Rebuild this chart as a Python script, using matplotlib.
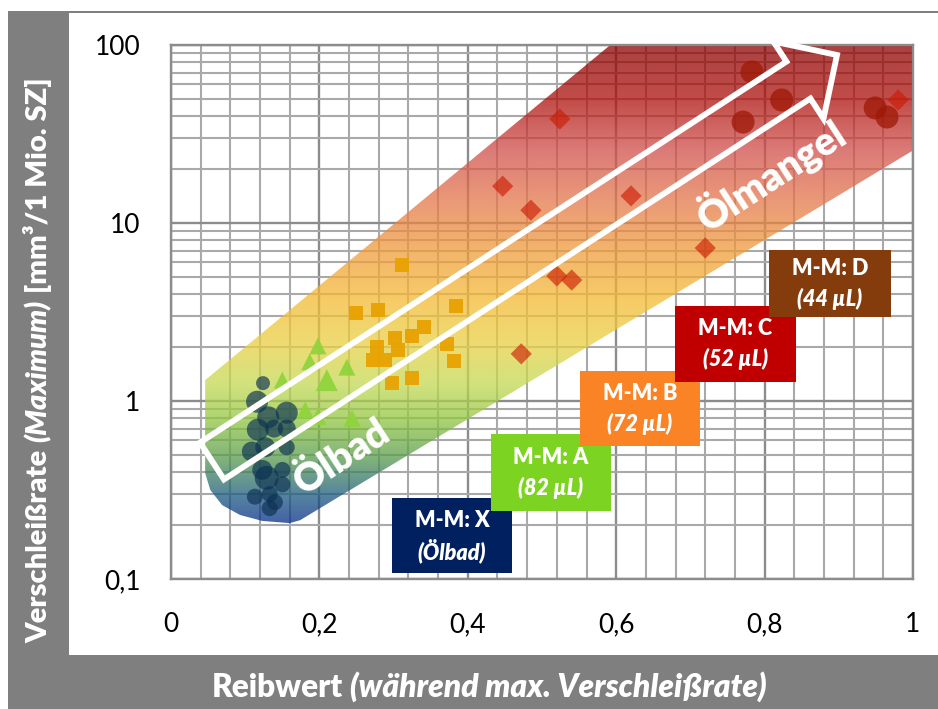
import numpy as np
import matplotlib
matplotlib.use("Agg")
import matplotlib.pyplot as plt
from matplotlib.patches import Polygon, Rectangle
from matplotlib.colors import to_rgb
from matplotlib.ticker import FixedLocator, FuncFormatter, NullFormatter

plt.rcParams['font.family'] = ['Lato', 'DejaVu Sans']

# ---------------- data ----------------
# M-M: X (Ölbad)
x_oelbad = [0.124, 0.116, 0.131, 0.156, 0.117, 0.139, 0.156, 0.109, 0.127,
            0.156, 0.123, 0.129, 0.150, 0.150, 0.113, 0.133, 0.140, 0.133]
y_oelbad = [1.26, 0.99, 0.81, 0.86, 0.69, 0.70, 0.70, 0.52, 0.55,
            0.55, 0.41, 0.37, 0.41, 0.34, 0.29, 0.30, 0.27, 0.25]
d_oelbad = [14, 22, 22, 22, 22, 18, 18, 20, 20, 16, 20, 24, 16, 16, 16, 16, 16, 16]

# M-M: A (82 µL)
x_a = [0.150, 0.187, 0.198, 0.210, 0.237, 0.181, 0.198, 0.244]
y_a = [1.31, 1.66, 2.04, 1.31, 1.55, 0.89, 0.82, 0.80]
d_a = [17, 17, 17, 22, 17, 17, 17, 17]

# M-M: B (72 µL)
x_b = [0.311, 0.249, 0.279, 0.384, 0.341, 0.325, 0.302, 0.278,
       0.306, 0.272, 0.288, 0.372, 0.381, 0.298, 0.325]
y_b = [5.81, 3.12, 3.25, 3.42, 2.60, 2.32, 2.26, 2.01,
       1.93, 1.70, 1.70, 2.09, 1.68, 1.26, 1.35]

# M-M: C (52 µL)
x_c = [0.524, 0.447, 0.485, 0.620, 0.720, 0.520, 0.540, 0.472, 0.980]
y_c = [38.4, 16.1, 11.8, 14.2, 7.24, 5.04, 4.78, 1.84, 49.1]

# M-M: D (44 µL)
x_d = [0.783, 0.823, 0.771, 0.949, 0.965]
y_d = [70.5, 49.1, 36.9, 44.3, 39.4]

x_ticks = [0, 0.2, 0.4, 0.6, 0.8, 1.0]
y_ticks = [0.1, 1, 10, 100]

legend_titles = ["M-M: X", "M-M: A", "M-M: B", "M-M: C", "M-M: D"]
legend_subs = ["(Ölbad)", "(82 µL)", "(72 µL)", "(52 µL)", "(44 µL)"]

# ---------------- figure ----------------
W, H = 938, 709
fig = plt.figure(figsize=(W / 100, H / 100), dpi=100)
fig.patch.set_facecolor('white')


def fx(px):
    return px / W


def fy(py):
    return 1 - py / H


# grey frame with white panel
fig.add_artist(Rectangle((fx(8), 0), 1 - fx(8), fy(11), transform=fig.transFigure,
                         facecolor='#7f7f7f', edgecolor='none', zorder=-2))
fig.add_artist(Rectangle((fx(69), fy(655)), 1 - fx(69), fy(13) - fy(655),
                         transform=fig.transFigure, facecolor='white',
                         edgecolor='none', zorder=-1))

ax = fig.add_axes([fx(171), fy(579), (913 - 171) / W, (579 - 45) / H])
ax.set_facecolor('white')
ax.set_yscale('log')
ax.set_xlim(0, 1)
ax.set_ylim(0.1, 100)

ax.xaxis.set_major_locator(FixedLocator(x_ticks))
ax.xaxis.set_minor_locator(FixedLocator(np.arange(0, 1.0001, 0.04)))
ax.yaxis.set_major_locator(FixedLocator(y_ticks))
minor_y = [m * 10.0 ** e for e in (-1, 0, 1) for m in range(2, 10)]
ax.yaxis.set_minor_locator(FixedLocator(minor_y))


def comma_fmt(v, pos):
    return f"{v:g}".replace('.', ',')


ax.xaxis.set_major_formatter(FuncFormatter(comma_fmt))
ax.yaxis.set_major_formatter(FuncFormatter(comma_fmt))
ax.yaxis.set_minor_formatter(NullFormatter())
ax.tick_params(which='both', length=0)
ax.tick_params(axis='y', labelsize=19, pad=22)
ax.tick_params(axis='x', labelsize=19, pad=24)

ax.set_axisbelow(True)
ax.grid(which='minor', color='#a9a9a9', lw=1.5)
ax.grid(which='major', color='#8c8c8c', lw=1.7)
for sp in ax.spines.values():
    sp.set_color('#8c8c8c')
    sp.set_linewidth(1.7)

# ---------------- gradient band ----------------
band_x = [0.046, 0.592, 1.009, 1.001, 0.174, 0.160, 0.123, 0.093, 0.069, 0.053, 0.046]
band_y = [1.31, 100.0, 106.8, 25.7, 0.214, 0.206, 0.212, 0.229, 0.260, 0.316, 0.394]
band = Polygon(np.column_stack([band_x, band_y]), closed=True,
               transform=ax.transData, facecolor='none', edgecolor='none')

stops_log = [2.05, 1.69, 1.41, 1.13, 0.85, 0.57, 0.31, 0.09, -0.11, -0.33, -0.53, -0.72]
stops_col = ['#a52a22', '#c24c48', '#dc7a78', '#ea9878', '#f3b46c', '#f7cb66',
             '#eedc72', '#d2e27e', '#acd470', '#80b27a', '#5584a0', '#2e5aa8']
alpha_band = 0.75
rgb = np.array([to_rgb(c) for c in stops_col])
rgb = np.clip((rgb - (1 - alpha_band)) / alpha_band, 0, 1)

ya = np.linspace(1.03, -0.03, 600)
logy = -1 + 3 * ya
img = np.zeros((len(ya), 2, 4))
for ch in range(3):
    col = np.interp(logy, stops_log[::-1], rgb[::-1, ch])
    img[:, :, ch] = col[:, None]
img[:, :, 3] = alpha_band
im = ax.imshow(img, transform=ax.transAxes, extent=[-0.02, 1.03, -0.03, 1.03],
               aspect='auto', interpolation='bilinear', zorder=1)
im.set_clip_box(None)
im.set_clip_path(band)
ax.set_xlim(0, 1)
ax.set_ylim(0.1, 100)

# ---------------- markers ----------------
ax.scatter(x_oelbad, y_oelbad, s=(np.array(d_oelbad) * 0.72) ** 2,
           color='#0c3152', alpha=0.66, edgecolors='none', zorder=3)
ax.scatter(x_a, y_a, s=(np.array(d_a) * 0.72) ** 2, marker='^',
           color='#8ed43a', alpha=0.92, edgecolors='none', zorder=3)
ax.scatter(x_b, y_b, s=(14 * 0.72) ** 2, marker='s',
           color='#e8a202', alpha=0.95, edgecolors='none', zorder=3)
ax.scatter(x_c, y_c, s=(15 * 0.72) ** 2, marker='D',
           color='#cc1800', alpha=0.62, edgecolors='none', zorder=3)
ax.scatter(x_d, y_d, s=(23 * 0.72) ** 2,
           color='#9e1805', alpha=0.75, edgecolors='none', zorder=3)

# ---------------- hollow arrow ----------------
S = np.array([212.0, 461.0])
T = np.array([837.0, 55.0])
d = (T - S) / np.linalg.norm(T - S)
n = np.array([d[1], -d[0]])          # normal pointing up-left on screen
half, head_half, head_len = 22.0, 46.0, 46.0
B = T - head_len * d
pts = [S + half * n, B + half * n, B + head_half * n, T,
       B - head_half * n, B - half * n, S - half * n]
pts = np.array([[fx(p[0]), fy(p[1])] for p in pts])
ax.add_patch(Polygon(pts, closed=True, transform=fig.transFigure, clip_on=False,
                     facecolor='none', edgecolor='white', lw=4.2,
                     joinstyle='miter', zorder=4))

ang = np.degrees(np.arctan2(-d[1], d[0]))
ax.text(fx(342), fy(457), "Ölbad", transform=fig.transFigure, rotation=ang,
        rotation_mode='anchor', ha='center', va='center', fontsize=28,
        fontweight='heavy', color='white', zorder=4)
ax.text(fx(771), fy(174), "Ölmangel", transform=fig.transFigure, rotation=ang,
        rotation_mode='anchor', ha='center', va='center', fontsize=28,
        fontweight='heavy', color='white', zorder=4)

# ---------------- legend boxes ----------------
box_px = [(392, 498, 512, 573), (491, 434, 611, 511), (580, 371, 700, 446),
          (675, 306, 796, 382), (769, 250, 891, 317)]
box_col = ['#002060', '#7dd321', '#f98325', '#c00000', '#843c0c']
for (l, t, r, b), c, t1, t2 in zip(box_px, box_col, legend_titles, legend_subs):
    ax.add_patch(Rectangle((fx(l), fy(b)), fx(r) - fx(l), fy(t) - fy(b),
                           transform=fig.transFigure, clip_on=False,
                           facecolor=c, edgecolor='none', zorder=5))
    cx, cy = (l + r) / 2, (t + b) / 2
    ax.text(fx(cx), fy(cy - 15), t1, transform=fig.transFigure, ha='center',
            va='center', fontsize=15.5, fontweight='heavy', color='white', zorder=6)
    ax.text(fx(cx), fy(cy + 15), t2, transform=fig.transFigure, ha='center',
            va='center', fontsize=15.5, fontweight='heavy', fontstyle='italic',
            color='white', zorder=6)

# ---------------- axis titles (mixed upright / italic) ----------------
renderer = fig.canvas.get_renderer()


def rich_label(pieces, center, rotation, size):
    arts = [fig.text(0, 0, s, fontsize=size, fontweight='heavy', fontstyle=st,
                     color='white', rotation=rotation, rotation_mode='anchor',
                     ha='left', va='baseline') for s, st in pieces]
    lens = []
    for a in arts:
        bb = a.get_window_extent(renderer)
        lens.append(bb.height if rotation == 90 else bb.width)
    gap = size * 100 / 72 * 0.24
    total = sum(lens) + gap * (len(arts) - 1)
    cx, cy = center
    if rotation == 90:
        pos = (H - cy) - total / 2
        for a, L in zip(arts, lens):
            a.set_position((cx / W, pos / H))
            pos += L + gap
    else:
        pos = cx - total / 2
        for a, L in zip(arts, lens):
            a.set_position((pos / W, (H - cy) / H))
            pos += L + gap


rich_label([("Verschleißrate", 'normal'), ("(Maximum)", 'italic'),
            ("[mm³/1 Mio. SZ]", 'normal')], (47, 360), 90, 21)
rich_label([("Reibwert", 'normal'), ("(während max. Verschleißrate)", 'italic')],
           (489, 697), 0, 22.8)

fig.savefig("out.png", dpi=100)
